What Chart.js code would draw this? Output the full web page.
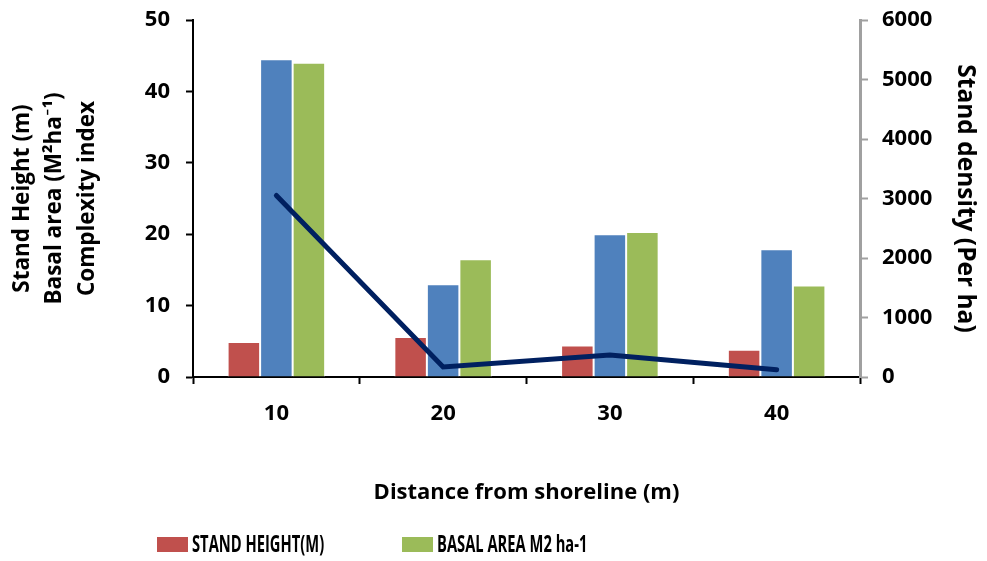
<!DOCTYPE html>
<html>
<head>
<meta charset="utf-8">
<script src="https://cdn.jsdelivr.net/npm/chart.js@4.4.1/dist/chart.umd.min.js"></script>
<style>
  html, body { margin: 0; padding: 0; background: #ffffff; }
  #wrap { width: 987px; height: 561px; position: relative; }
</style>
</head>
<body>
<div id="wrap"><canvas id="chart" width="987" height="561"></canvas></div>
<script>
// Distances from the shoreline (m)
const categories = ['10', '20', '30', '40'];

// Left axis series
const standHeight = [4.9, 5.6, 4.4, 3.8];      // m
const complexityIndex = [44.5, 13.0, 20.0, 17.9];
const basalArea = [44.0, 16.5, 20.3, 12.8];    // M2 ha-1

// Right axis series
const standDensity = [3050, 170, 370, 120];    // per ha

// Axis tick values
const leftTicks = [0, 10, 20, 30, 40, 50];
const rightTicks = [0, 1000, 2000, 3000, 4000, 5000, 6000];

const FONT = '"Open Sans", Lato, "DejaVu Sans", sans-serif';

// Vertical scales should not push the plot area down for their end labels
function fixVertical(width) {
  return scale => {
    scale.width = width;
    scale.paddingTop = 0;
    scale.paddingBottom = 0;
  };
}

// Two-entry legend drawn beneath the x-axis title
const bottomLegend = {
  id: 'bottomLegend',
  afterDraw(chart) {
    const ctx = chart.ctx;
    const entries = chart.data.datasets.filter(d => d.showInLegend);
    const slots = [157, 402];
    ctx.save();
    ctx.font = 'bold 23px ' + FONT;
    ctx.textBaseline = 'middle';
    entries.forEach((d, i) => {
      const x = slots[i];
      ctx.fillStyle = d.backgroundColor;
      ctx.fillRect(x, 537, 31, 15);
      ctx.save();
      ctx.translate(x + 35, 545);
      ctx.scale(0.64, 1);
      ctx.fillStyle = '#000000';
      ctx.fillText(d.label, 0, 0);
      ctx.restore();
    });
    ctx.restore();
  }
};

new Chart(document.getElementById('chart'), {
  type: 'bar',
  data: {
    labels: categories,
    datasets: [
      {
        type: 'line',
        label: 'STAND DENSITY',
        data: standDensity,
        yAxisID: 'y1',
        borderColor: '#002060',
        borderWidth: 5,
        pointRadius: 0,
        tension: 0,
        borderCapStyle: 'round',
        borderJoinStyle: 'miter',
        order: 0
      },
      {
        label: 'STAND HEIGHT(M)',
        data: standHeight,
        yAxisID: 'y',
        backgroundColor: '#C0504D',
        borderColor: '#ffffff',
        borderWidth: 1,
        showInLegend: true,
        order: 1
      },
      {
        label: 'COMPLEXITY INDEX',
        data: complexityIndex,
        yAxisID: 'y',
        backgroundColor: '#4F81BD',
        borderColor: '#ffffff',
        borderWidth: 1,
        order: 1
      },
      {
        label: 'BASAL AREA M2 ha-1',
        data: basalArea,
        yAxisID: 'y',
        backgroundColor: '#9BBB59',
        borderColor: '#ffffff',
        borderWidth: 1,
        showInLegend: true,
        order: 1
      }
    ]
  },
  options: {
    responsive: false,
    animation: false,
    devicePixelRatio: 1,
    layout: { padding: { top: 20, left: 0, right: 0, bottom: 0 } },
    datasets: {
      bar: { categoryPercentage: 0.585, barPercentage: 1.0 }
    },
    plugins: {
      legend: { display: false },
      tooltip: { enabled: false }
    },
    scales: {
      x: {
        type: 'category',
        offset: true,
        afterFit(scale) {
          scale.height = 184;
          scale.paddingLeft = 0;
          scale.paddingRight = 0;
        },
        border: { display: true, color: '#000000', width: 2 },
        grid: {
          offset: true,
          drawOnChartArea: false,
          drawTicks: true,
          tickLength: 7,
          tickWidth: 2,
          tickColor: '#000000'
        },
        ticks: {
          color: '#000000',
          padding: 17,
          font: { family: FONT, size: 22, weight: 'bold' }
        },
        title: {
          display: true,
          text: 'Distance from shoreline (m)',
          color: '#000000',
          font: { family: FONT, size: 22, weight: 'bold', lineHeight: 1.2 },
          padding: { top: 0, bottom: 55 }
        }
      },
      y: {
        position: 'left',
        min: 0,
        max: 50,
        afterBuildTicks(scale) { scale.ticks = leftTicks.map(v => ({ value: v })); },
        afterFit: fixVertical(193),
        border: { display: true, color: '#000000', width: 2 },
        grid: {
          drawOnChartArea: false,
          drawTicks: true,
          tickLength: 7,
          tickWidth: 2,
          tickColor: '#000000'
        },
        ticks: {
          color: '#000000',
          padding: 16,
          font: { family: FONT, size: 22, weight: 'bold' }
        },
        title: {
          display: true,
          text: ['Stand Height (m)', 'Basal area (M\u00B2ha\u207B\u00B9)', 'Complexity index'],
          color: '#000000',
          font: { family: FONT, size: 22.5, weight: 'bold', lineHeight: 1.45 },
          padding: { top: 6, bottom: 0 }
        }
      },
      y1: {
        position: 'right',
        min: 0,
        max: 6000,
        afterBuildTicks(scale) { scale.ticks = rightTicks.map(v => ({ value: v })); },
        afterFit: fixVertical(127),
        border: { display: true, color: '#A0A0A0', width: 3 },
        grid: {
          drawOnChartArea: false,
          drawTicks: true,
          tickLength: 8,
          tickWidth: 2,
          tickColor: '#A0A0A0'
        },
        ticks: {
          color: '#000000',
          padding: 14,
          callback: value => String(value),
          font: { family: FONT, size: 22, weight: 'bold' }
        },
        title: {
          display: true,
          text: 'Stand density (Per ha)',
          color: '#000000',
          font: { family: FONT, size: 24.5, weight: 'bold', lineHeight: 1.2 },
          padding: { top: 7, bottom: 0 }
        }
      }
    }
  },
  plugins: [bottomLegend]
});
</script>
</body>
</html>
